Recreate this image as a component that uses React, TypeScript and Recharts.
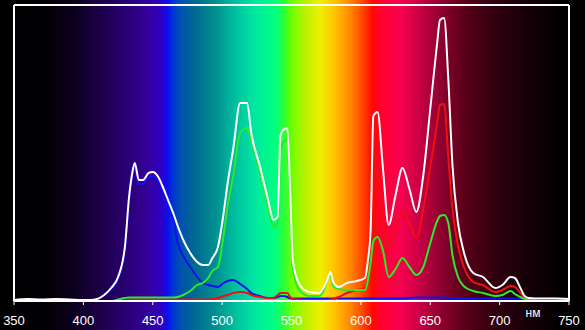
import { LineChart, Line, XAxis, YAxis, ReferenceLine } from 'recharts';

// wavelength, nm
const wavelengths = [
  350, 360, 370, 380, 390, 400, 405, 410, 415, 420,
  425, 430, 433, 435, 437, 440, 443, 447, 450, 454,
  457, 461, 465, 468, 472, 477, 482, 486, 490, 493,
  497, 501, 504, 508, 513, 518, 521, 527, 533, 537,
  540, 542, 544, 547, 549, 551, 556, 563, 570, 573,
  576, 578, 580, 584, 590, 597, 603, 605, 607, 609,
  612, 616, 620, 625, 630, 635, 640, 645, 650, 655,
  657, 660, 663, 666, 670, 674, 681, 688, 697, 702,
  708, 711, 715, 718, 721, 730, 740, 750,
];

// relative intensity
const whiteLevel = [
  1, 2, 1.5, 2, 1.5, 1, 1, 2, 6, 13,
  24, 55, 105, 126, 138, 121, 121, 128, 129, 124,
  115, 101, 87, 75, 61, 48, 39, 36, 36, 43,
  54, 87, 118, 152, 198, 198, 168, 136, 102, 81,
  84, 165, 171, 173, 111, 40, 16, 9, 8, 13,
  22, 29, 19, 14, 18, 20, 23, 40, 70, 185,
  189, 131, 76, 106, 133, 112, 89, 126, 192, 258,
  281, 283, 222, 136, 78, 50, 28, 24, 13, 16,
  24, 23, 13, 5, 3, 2.5, 2.5, 2,
];

const redLevel = [
  0, 0, 0, 0, 0, 0, 0, 0, 0, 0,
  0, 0.5, 1, 1.5, 1.5, 1.5, 1.5, 1.5, 1.5, 1.5,
  1.5, 1.5, 1.5, 1.5, 1.5, 1.5, 1.5, 1.5, 1.5, 2,
  3, 5, 6, 8, 9, 8, 6, 4, 3, 3,
  6, 8, 8, 8, 4, 2, 1.5, 1, 1, 1,
  1, 1.5, 2, 4, 8, 11, 13, 20, 30, 122,
  124, 80, 52, 73, 90, 78, 63, 92, 134, 178,
  196, 197, 144, 92, 55, 35, 19, 16, 9, 11,
  15, 14, 8, 3, 1, 0, 0, 0,
];

const greenLevel = [
  0, 0, 0, 0, 0, 0, 0, 0, 0, 0,
  1.5, 3, 3.5, 3.5, 3.5, 3.5, 3.5, 3.5, 3.5, 3.5,
  3.5, 3.5, 3.5, 4, 6, 10, 16, 18, 23, 30,
  34, 65, 95, 125, 168, 173, 160, 130, 95, 74,
  79, 150, 158, 162, 100, 32, 10, 5, 5, 10,
  22, 27, 15, 12, 11, 11, 11, 20, 38, 60,
  64, 50, 24, 32, 43, 34, 26, 34, 58, 80,
  85, 86, 78, 46, 24, 15, 10, 8, 5, 6,
  10, 7, 4, 2, 1, 0, 0, 0,
];

const blueLevel = [
  0, 0, 0, 0, 0, 0, 0, 2, 6, 12,
  22, 52, 102, 123, 134, 117, 117, 124, 125, 120,
  111, 98, 82, 58, 45, 34, 24, 18, 16, 15,
  14, 18, 20, 21, 17, 12, 8, 5, 3, 3,
  4, 5, 5, 4, 2.5, 2.5, 2.5, 2.5, 2.5, 2.5,
  2.5, 2.5, 2.5, 2.5, 2.5, 2.5, 2.5, 2.5, 2.5, 2.5,
  2.5, 2.5, 2.5, 2.5, 2.5, 3, 3.5, 3.5, 3.5, 3.5,
  3.5, 3.5, 3, 2.5, 2.5, 2.5, 2.5, 2.5, 2.5, 2.5,
  2.5, 2.5, 2.5, 2.5, 2.5, 2.5, 2.5, 0,
];

const xTicks = [350, 400, 450, 500, 550, 600, 650, 700, 750];

const data = wavelengths.map((nm, i) => ({
  nm,
  white: whiteLevel[i],
  red: redLevel[i],
  green: greenLevel[i],
  blue: blueLevel[i],
}));

const spectrum =
  'linear-gradient(to right, #000 0%, #020006 8.5%, #0c0020 12.8%, #1c0048 17.1%, #2c0078 22.2%, ' +
  '#3600a0 25.6%, #2a00c8 27.7%, #0a10f0 28.7%, #0030d8 29.4%, #0050b0 30.8%, #006a90 33.3%, ' +
  '#008f90 36.8%, #00c0a0 40.2%, #00e8a0 43.6%, #00ff80 47%, #30ff30 48.7%, #70ff00 49.9%, ' +
  '#b8f000 52.1%, #f0f000 54.7%, #ffc000 57.3%, #ff8800 59.8%, #ff4800 61.9%, #ff0a00 63.6%, ' +
  '#ff0030 65.3%, #f80050 68.4%, #c80045 71.8%, #900030 75.2%, #580018 79.5%, #300010 84.6%, ' +
  '#140006 90.6%, #040001 95.7%, #000 100%)';

const font = '"Liberation Sans", Arial, sans-serif';

export default function App() {
  return (
    <div style={{ position: 'absolute', left: 0, top: 0, width: 585, height: 330, background: spectrum }}>
      <LineChart width={585} height={330} data={data} margin={{ top: 5, right: 16, bottom: 0, left: 14 }}>
        <XAxis
          dataKey="nm"
          type="number"
          domain={[350, 750]}
          allowDataOverflow
          ticks={xTicks}
          interval={0}
          height={29}
          axisLine={{ stroke: '#fff', strokeWidth: 2 }}
          tickLine={{ stroke: '#fff', strokeWidth: 1 }}
          tickSize={4}
          tickMargin={11}
          tick={{ fill: '#fff', fontSize: 13, fontFamily: font }}
        />
        <YAxis hide domain={[0, 296]} allowDataOverflow />
        <ReferenceLine x={350} stroke="#fff" strokeWidth={2} />
        <ReferenceLine x={750} stroke="#fff" strokeWidth={2} />
        <ReferenceLine y={296} stroke="#fff" strokeWidth={2} />
        <Line type="monotone" dataKey="blue" stroke="#1010f0" strokeWidth={2} dot={false} isAnimationActive={false} />
        <Line type="monotone" dataKey="red" stroke="#f01010" strokeWidth={2} dot={false} isAnimationActive={false} />
        <Line type="monotone" dataKey="green" stroke="#2ee82e" strokeWidth={2} dot={false} isAnimationActive={false} />
        <Line type="monotone" dataKey="white" stroke="#ffffff" strokeWidth={2} dot={false} isAnimationActive={false} />
      </LineChart>
      <svg style={{ position: 'absolute', left: 0, top: 0, pointerEvents: 'none' }} width={585} height={330}>
        <text x={533} y={317} textAnchor="middle" fill="#fff" fontSize={12} fontFamily={font}>
          нм
        </text>
      </svg>
    </div>
  );
}
